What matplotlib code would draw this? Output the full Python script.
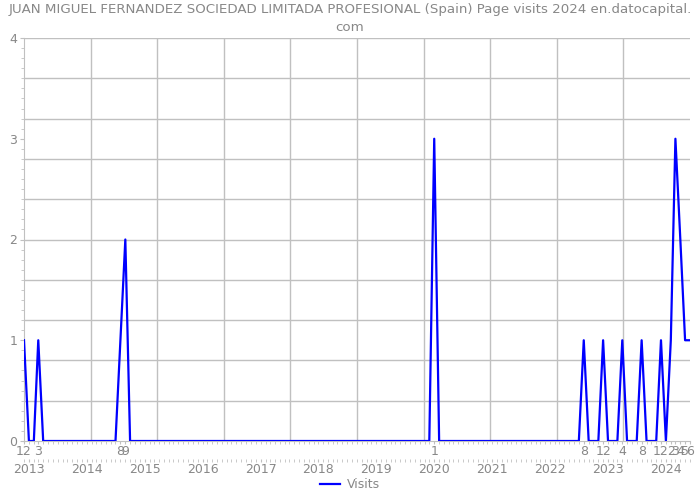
import pandas as pd
import numpy as np
import matplotlib
matplotlib.use("Agg")
import matplotlib.pyplot as plt
import matplotlib.dates as mdates

# Page visits per month (months not listed had 0 visits)
first_month = "2012-12-01"
last_month = "2024-06-01"
visit_months = ["2012-12", "2013-03", "2014-08", "2014-09", "2020-01",
                "2022-08", "2022-12", "2023-04", "2023-08", "2023-12",
                "2024-02", "2024-03", "2024-04", "2024-05", "2024-06"]
visit_values = [1, 1, 1, 2, 3, 1, 1, 1, 1, 1, 1, 3, 2, 1, 1]
month_labels = ["12", "3", "8", "9", "1", "8", "12", "4", "8", "12",
                "2", "3", "4", "5", "6"]
years = list(range(2013, 2025))
title = ("JUAN MIGUEL FERNANDEZ SOCIEDAD LIMITADA PROFESIONAL (Spain) Page visits 2024 en.datocapital.\ncom")

months = pd.date_range(first_month, last_month, freq="MS")
visits = pd.Series(0, index=months)
for m, v in zip(visit_months, visit_values):
    visits[pd.Timestamp(m + "-01")] = v

grey = "#888888"
gridc = "#c0c0c0"

fig = plt.figure(figsize=(7, 5), dpi=100)
ax = fig.add_axes([24 / 700, 59 / 500, 666 / 700, 403 / 500])

ax.plot(visits.index, visits.values, color="#0000ff", lw=1.6, label="Visits", zorder=3)

xmin, xmax = mdates.date2num(months[0]), mdates.date2num(months[-1])
ax.set_xlim(xmin, xmax)
ax.set_ylim(0, 4)

# grid: 10 equal vertical divisions, horizontal every 0.4
for xv in np.linspace(xmin, xmax, 11)[1:-1]:
    ax.axvline(xv, color=gridc, lw=1, zorder=1)
for yv in np.arange(0.4, 4.01, 0.4):
    ax.axhline(yv, color=gridc, lw=1, zorder=1)

ax.set_yticks([0, 1, 2, 3, 4])
ax.set_yticks(np.arange(0, 4.01, 0.1), minor=True)
ax.tick_params(axis="y", which="major", length=3, color=gridc, labelcolor=grey,
               labelsize=9, pad=2)
ax.tick_params(axis="y", which="minor", length=2, color=gridc)

tick_pos = [pd.Timestamp(m + "-01") for m in visit_months]
ax.set_xticks(tick_pos)
ax.set_xticklabels(month_labels)
ax.xaxis.set_minor_locator(mdates.MonthLocator())
ax.tick_params(axis="x", which="major", length=2, color=gridc, labelcolor=grey,
               labelsize=9, pad=1)
ax.tick_params(axis="x", which="minor", length=2, color=gridc)

for s in ["top", "right"]:
    ax.spines[s].set_visible(False)
for s in ["left", "bottom"]:
    ax.spines[s].set_color(gridc)

# year row
sec = ax.secondary_xaxis(-0.045)
sec.spines["bottom"].set_visible(False)
sec.set_xticks([mdates.date2num(pd.Timestamp(f"{y}-01-01")) for y in years])
sec.set_xticklabels([str(y) for y in years])
sec.xaxis.set_minor_locator(mdates.MonthLocator())
sec.tick_params(axis="x", which="major", length=2, color=gridc, labelcolor=grey,
                labelsize=9, pad=1)
sec.tick_params(axis="x", which="minor", length=2, color=gridc)

fig.suptitle(title, color=grey, fontsize=9.6, y=0.995, linespacing=1.55)

leg = fig.legend(loc="lower center", bbox_to_anchor=(0.5, -0.005), frameon=False,
                 fontsize=9, handlelength=1.6, handletextpad=0.5)
for t in leg.get_texts():
    t.set_color(grey)

fig.savefig("out.png", dpi=100)
